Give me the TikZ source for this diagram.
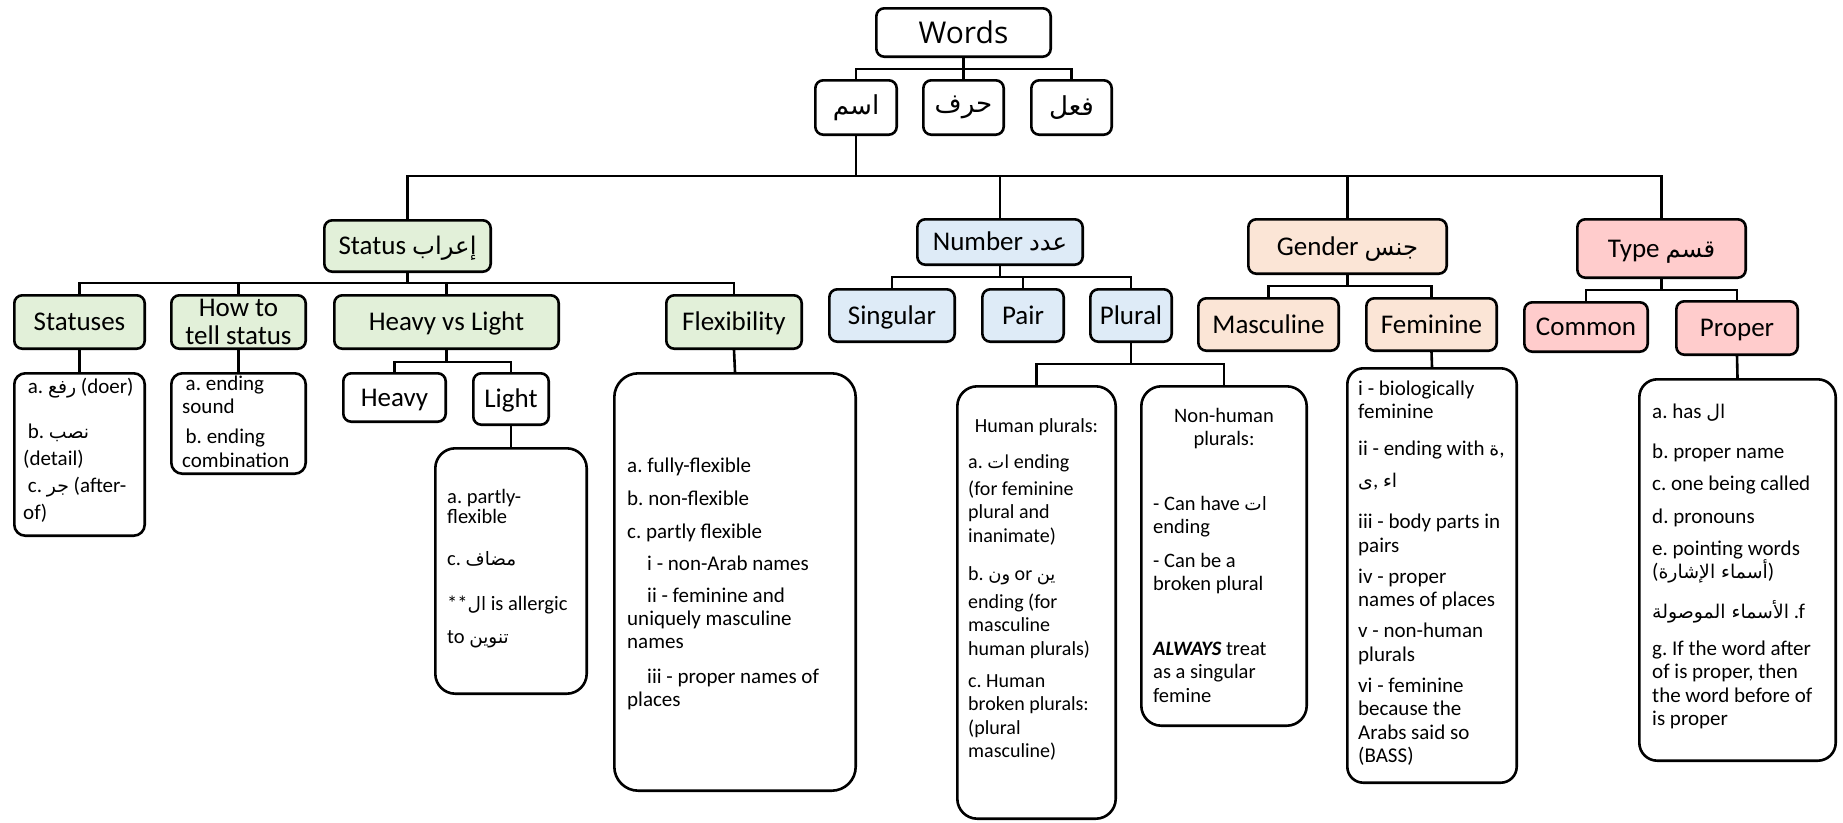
\documentclass[tikz,border=0pt]{standalone}
\usepackage{fontspec}
\setmainfont{Carlito}
\newfontfamily\wordsfont{Open Sans}
\newfontfamily\arfont[Script=Arabic,Scale=0.9]{DejaVu Sans}
\TeXXeTstate=1
\lineskiplimit=-100pt
\newcommand\AR[1]{{\arfont\beginR#1\endR}}
\definecolor{cgreen}{HTML}{E2F0D9}
\definecolor{cblue}{HTML}{DEEBF7}
\definecolor{cpeach}{HTML}{FBE5D6}
\definecolor{cpink}{HTML}{FFCCCC}
% box from its outer corners: name, style, x1, y1, x2, y2, text
\newcommand\mkbox[7]{%
  \pgfmathsetmacro\cx{(#3+#5)/2}\pgfmathsetmacro\cy{(#4+#6)/2}%
  \pgfmathsetmacro\bw{#5-#3-2.6}\pgfmathsetmacro\bh{#6-#4-2.6}%
  \node[#2, minimum width=\bw pt, minimum height=\bh pt] (#1) at (\cx,\cy) {#7};}
\tikzset{
  boxbase/.style={draw=black, line width=2.6pt, fill=white, inner sep=0pt, rounded corners=8pt},
  lblm/.style={boxbase, align=center, font=\fontsize{27}{28}\selectfont},
  lbl/.style={boxbase, font=\fontsize{27}{29}\selectfont, text height=19pt, text depth=2pt},
  wbox/.style={boxbase, font=\wordsfont\fontsize{30}{32}\selectfont},
  abox/.style={boxbase, font=\fontsize{29}{31}\selectfont},
  cbox/.style={boxbase},
  txt/.style={anchor=north west, inner sep=0pt, align=left},
  link/.style={line width=2.6pt}}
\begin{document}
\frenchspacing
\lineskiplimit=-100pt
\begin{tikzpicture}[x=1pt,y=-1pt]
\fill[white] (0,0) rectangle (1843,822);
\useasboundingbox (0,0) rectangle (1843,822);

% heights of the connector bars
\coordinate (yW) at (0,69);
\coordinate (yM) at (0,176);
\coordinate (yS) at (0,283);
\coordinate (yN) at (0,277);
\coordinate (yG) at (0,286);
\coordinate (yT) at (0,290);
\coordinate (yH) at (0,362);
\coordinate (yP) at (0,364);

% top of the tree
\mkbox{words}{wbox}{875}{7}{1052}{58}{Words}
\mkbox{ism}{abox}{814}{79}{898}{136}{\AR{اسم}}
\mkbox{harf}{abox}{922}{79}{1005}{136}{\AR{حرف}}
\mkbox{fil}{abox}{1030}{79}{1113}{136}{\AR{فعل}}

% the four headings under the noun
\mkbox{status}{lbl,fill=cgreen}{323}{219}{492}{273}{Status \AR{إعراب}}
\mkbox{number}{lbl,fill=cblue}{916}{218}{1084}{266}{Number \AR{عدد}}
\mkbox{gender}{lbl,fill=cpeach}{1247}{218}{1448}{275}{Gender \AR{جنس}}
\mkbox{typ}{lbl,fill=cpink}{1576}{218}{1747}{279}{Type \AR{قسم}}

% sub-headings
\mkbox{statuses}{lbl,fill=cgreen}{13}{294}{146}{350}{Statuses}
\mkbox{howto}{lblm,fill=cgreen}{170}{294}{307}{350}{How to\\tell status}
\mkbox{hvl}{lbl,fill=cgreen}{333}{294}{560}{350}{Heavy vs Light}
\mkbox{flex}{lbl,fill=cgreen}{665}{294}{803}{350}{Flexibility}
\mkbox{heavy}{lbl}{342}{372}{447}{423}{Heavy}
\mkbox{light}{lbl}{472}{372}{550}{426}{Light}
\mkbox{singular}{lbl,fill=cblue}{828}{288}{956}{343}{Singular}
\mkbox{pair}{lbl,fill=cblue}{981}{288}{1065}{343}{Pair}
\mkbox{plural}{lbl,fill=cblue}{1089}{288}{1173}{343}{Plural}
\mkbox{masc}{lbl,fill=cpeach}{1197}{297}{1340}{352}{Masculine}
\mkbox{fem}{lbl,fill=cpeach}{1365}{297}{1498}{352}{Feminine}
\mkbox{common}{lbl,fill=cpink}{1523}{301}{1649}{353}{Common}
\mkbox{proper}{lbl,fill=cpink}{1675}{300}{1799}{356}{Proper}

% note boxes
\mkbox{statC}{cbox,rounded corners=11pt}{13}{372}{146}{537}{}
\mkbox{howC}{cbox,rounded corners=11pt}{170}{372}{307}{475}{}
\mkbox{lightC}{cbox,rounded corners=20pt}{434}{447}{588}{695}{}
\mkbox{flexC}{cbox,rounded corners=24pt}{613}{372}{857}{792}{}
\mkbox{humC}{cbox,rounded corners=20pt}{956}{385}{1117}{820}{}
\mkbox{nonC}{cbox,rounded corners=20pt}{1140}{385}{1308}{727}{}
\mkbox{femC}{cbox,rounded corners=16pt}{1346}{367}{1518}{784}{}
\mkbox{propC}{cbox,rounded corners=18pt}{1638}{378}{1837}{762}{}

% note texts
\node[txt, font=\fontsize{21}{27}\selectfont] (statT) at (23,375) {\rule{0pt}{18pt}\hspace*{4.7pt}a. \AR{رفع} (doer)\\[18pt]\hspace*{4.7pt}b. \AR{نصب}\\(detail)\\\hspace*{4.7pt}c. \AR{جر} (after-\\of)};
\node[txt, font=\fontsize{21}{24}\selectfont] (howT) at (182,372) {\rule{0pt}{18pt}\hspace*{3.5pt}a. ending\\[-1pt]sound\\[6pt]\hspace*{3.5pt}b. ending\\combination};
\node[txt, font=\fontsize{20.5}{20}\selectfont] (lightT) at (447,485) {\rule{0pt}{18pt}a. partly-\\flexible\\[22pt]c. \AR{مضاف}\\[25pt]**\AR{ال} is allergic\\[13pt]to \AR{تنوين}};
\node[txt, font=\fontsize{21}{23}\selectfont] (flexT) at (627,454) {\rule{0pt}{18pt}a. fully-flexible\\[10pt]b. non-flexible\\[10pt]c. partly flexible\\[9pt]\hspace*{20pt}i - non-Arab names\\[9pt]\hspace*{20pt}ii - feminine and\\uniquely masculine\\names\\[12pt]\hspace*{20pt}iii - proper names of\\places};
\node[anchor=base, inner sep=0pt, font=\fontsize{20}{23.5}\selectfont] (humH) at (1036.5,432) {Human plurals:};
\node[txt, font=\fontsize{20}{23.5}\selectfont] (humT) at (968,450) {\rule{0pt}{18pt}a. \AR{ات} ending\\[3.5pt](for feminine\\plural and\\inanimate)\\[14.5pt]b. \AR{ون} or \AR{ين}\\[4.5pt]ending (for\\masculine\\human plurals)\\[8.5pt]c. Human\\broken plurals:\\(plural\\masculine)};
\node[anchor=north, inner sep=0pt, align=center, font=\fontsize{20.5}{23}\selectfont] (nonH) at (1224,404) {\rule{0pt}{18pt}Non-human\\plurals:};
\node[txt, font=\fontsize{20.5}{23}\selectfont] (nonT) at (1153,492) {\rule{0pt}{18pt}- Can have \AR{ات}\\ending\\[11pt]- Can be a\\broken plural\\[42pt]\textbf{\textit{ALWAYS}} treat\\as a singular\\[1pt]femine};
\node[txt, font=\fontsize{21}{23.5}\selectfont] (femT) at (1358,377) {\rule{0pt}{18pt}i - biologically\\feminine\\[13.5pt]ii - ending with \AR{ة},\\[8.5pt]\AR{ى}, \AR{اء}\\[17.5pt]iii - body parts in\\pairs\\[7.5pt]iv - proper\\names of places\\[7.5pt]v - non-human\\plurals\\[7.5pt]vi - feminine\\because the\\Arabs said so\\(BASS)};
\node[txt, font=\fontsize{21}{23}\selectfont] (propT) at (1652,400) {\rule{0pt}{18pt}a. has \AR{ال}\\[17pt]b. proper name\\[9pt]c. one being called\\[10pt]d. pronouns\\[9pt]e. pointing words\\(\AR{أسماء الإشارة})\\[17pt]\AR{الأسماء الموصولة} .f\\[14pt]g. If the word after\\of is proper, then\\[1pt]the word before of\\is proper};

% connectors
\foreach \c in {ism,harf,fil}
  \draw[link] (words.south) -- (words.south |- yW) -| (\c.north);
\foreach \c in {status,number,gender,typ}
  \draw[link] (ism.south) -- (ism.south |- yM) -| (\c.north);
\foreach \c in {statuses,howto,hvl,flex}
  \draw[link] (status.south) -- (status.south |- yS) -| (\c.north);
\foreach \c in {singular,pair,plural}
  \draw[link] (number.south) -- (number.south |- yN) -| (\c.north);
\foreach \c in {masc,fem}
  \draw[link] (gender.south) -- (gender.south |- yG) -| (\c.north);
\foreach \c in {common,proper}
  \draw[link] (typ.south) -- (typ.south |- yT) -| (\c.north);
\foreach \c in {heavy,light}
  \draw[link] (hvl.south) -- (hvl.south |- yH) -| (\c.north);
\foreach \c in {humC,nonC}
  \draw[link] (plural.south) -- (plural.south |- yP) -| (\c.north);
\draw[link] (statuses.south) -- (statC.north);
\draw[link] (howto.south) -- (howC.north);
\draw[link] (light.south) -- (lightC.north);
\draw[link] (flex.south) -- (flexC.north);
\draw[link] (fem.south) -- (femC.north);
\draw[link] (proper.south) -- (propC.north);
\end{tikzpicture}
\end{document}
